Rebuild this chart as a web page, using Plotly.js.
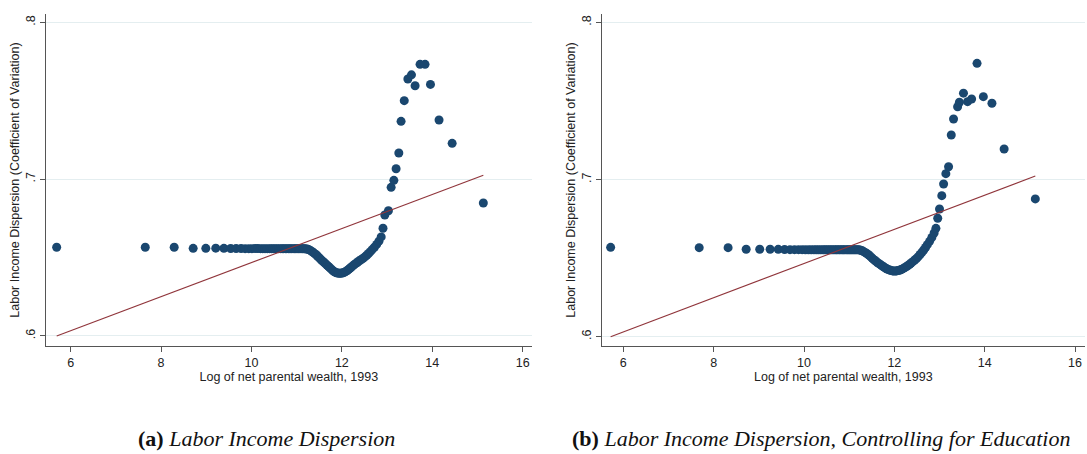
<!DOCTYPE html>
<html>
<head>
<meta charset="utf-8">
<script src="https://cdn.plot.ly/plotly-3.0.1.min.js"></script>
<style>html,body{margin:0;padding:0;background:#fff;}#chart{width:1087px;height:454px;}</style>
</head>
<body>
<div id="chart"></div>
<script>
// Panel (a): Labor income dispersion
var leftX = [
  5.69, 7.65, 8.29, 8.71, 8.99, 9.21, 9.39, 9.54, 9.66, 9.77,
  9.86, 9.94, 10.01, 10.08, 10.14, 10.20, 10.25, 10.30, 10.35, 10.40,
  10.44, 10.48, 10.52, 10.56, 10.60, 10.64, 10.68, 10.71, 10.75, 10.78,
  10.82, 10.85, 10.88, 10.92, 10.95, 10.98, 11.01, 11.04, 11.07, 11.10,
  11.13, 11.16, 11.19, 11.22, 11.25, 11.28, 11.31, 11.34, 11.37, 11.40,
  11.43, 11.46, 11.49, 11.52, 11.55, 11.58, 11.61, 11.64, 11.67, 11.70,
  11.73, 11.76, 11.79, 11.82, 11.85, 11.88, 11.91, 11.94, 11.97, 12.00,
  12.03, 12.06, 12.09, 12.12, 12.15, 12.18, 12.21, 12.25, 12.28, 12.32,
  12.35, 12.39, 12.43, 12.47, 12.51, 12.55, 12.59, 12.63, 12.67, 12.72,
  12.77, 12.82, 12.87, 12.91, 12.95, 13.03, 13.09, 13.15, 13.20, 13.26,
  13.31, 13.38, 13.46, 13.54, 13.62, 13.73, 13.84, 13.96, 14.15, 14.44,
  15.13
];
var leftY = [
  .6566, .6566, .6566, .6559, .6559, .6560, .6559, .6558, .6558, .6558,
  .6557, .6557, .6557, .6558, .6558, .6557, .6557, .6557, .6557, .6557,
  .6557, .6557, .6557, .6557, .6557, .6557, .6557, .6557, .6557, .6557,
  .6557, .6557, .6557, .6557, .6557, .6557, .6557, .6557, .6557, .6557,
  .6557, .6556, .6556, .6555, .6553, .6549, .6544, .6538, .6532, .6525,
  .6518, .6510, .6501, .6492, .6484, .6476, .6468, .6460, .6452, .6444,
  .6436, .6428, .6420, .6413, .6407, .6403, .6401, .6400, .6400, .6401,
  .6403, .6407, .6412, .6418, .6425, .6432, .6440, .6449, .6457, .6465,
  .6472, .6480, .6488, .6496, .6505, .6515, .6526, .6538, .6551, .6566,
  .6584, .6605, .6632, .6687, .6772, .6799, .6948, .6993, .7067, .7167,
  .7369, .7501, .7639, .7666, .7596, .7733, .7733, .7605, .7378, .7229,
  .6848
];
var leftFitY = [0.6000, 0.7025];   // linear fit at min and max of x

// Panel (b): controlling for education
var rightX = [
  5.72, 7.68, 8.32, 8.72, 9.02, 9.25, 9.43, 9.57, 9.69, 9.79,
  9.88, 9.96, 10.03, 10.10, 10.16, 10.22, 10.27, 10.32, 10.37, 10.42,
  10.46, 10.50, 10.54, 10.58, 10.62, 10.66, 10.70, 10.73, 10.77, 10.80,
  10.84, 10.87, 10.90, 10.94, 10.97, 11.00, 11.03, 11.06, 11.09, 11.12,
  11.15, 11.18, 11.21, 11.24, 11.27, 11.30, 11.33, 11.36, 11.39, 11.42,
  11.45, 11.48, 11.51, 11.54, 11.57, 11.60, 11.63, 11.66, 11.69, 11.72,
  11.75, 11.78, 11.81, 11.84, 11.87, 11.90, 11.93, 11.96, 11.99, 12.02,
  12.05, 12.08, 12.11, 12.14, 12.17, 12.20, 12.23, 12.27, 12.30, 12.34,
  12.37, 12.41, 12.45, 12.49, 12.53, 12.57, 12.61, 12.65, 12.69, 12.73,
  12.78, 12.83, 12.88, 12.92, 12.96, 13.00, 13.05, 13.09, 13.14, 13.20,
  13.26, 13.31, 13.40, 13.44, 13.53, 13.62, 13.71, 13.83, 13.97, 14.16,
  14.43, 15.12
];
var rightY = [
  .6569, .6567, .6567, .6557, .6557, .6557, .6556, .6555, .6554, .6554,
  .6554, .6554, .6553, .6553, .6553, .6553, .6553, .6553, .6553, .6553,
  .6553, .6553, .6553, .6553, .6553, .6553, .6553, .6553, .6553, .6553,
  .6553, .6553, .6553, .6553, .6553, .6553, .6553, .6553, .6553, .6553,
  .6553, .6553, .6553, .6552, .6549, .6545, .6540, .6535, .6529, .6523,
  .6516, .6508, .6500, .6492, .6485, .6478, .6471, .6465, .6459, .6453,
  .6447, .6441, .6436, .6431, .6427, .6424, .6421, .6419, .6418, .6418,
  .6419, .6421, .6423, .6426, .6430, .6435, .6440, .6446, .6453, .6461,
  .6469, .6478, .6488, .6498, .6510, .6523, .6537, .6552, .6568, .6586,
  .6607, .6632, .6660, .6690, .6754, .6813, .6898, .6972, .7038, .7082,
  .7284, .7386, .7464, .7492, .7550, .7496, .7513, .7740, .7528, .7486,
  .7195, .6877
];
var rightFitY = [0.6000, 0.7023];

var xTicks = [6, 8, 10, 12, 14, 16];
var yTicks = [0.6, 0.7, 0.8];
var yTickText = ['.6', '.7', '.8'];
var xTitle = 'Log of net parental wealth, 1993';
var yTitle = 'Labor Income Dispersion (Coefficient of Variation)';
var captionA = '<b>(a)</b> <i>Labor Income Dispersion</i>';
var captionB = '<b>(b)</b> <i>Labor Income Dispersion, Controlling for Education</i>';

var navy = '#1a476f', maroon = '#90353b';
var W = 1087, H = 454;

function minOf(a){return Math.min.apply(null, a);}
function maxOf(a){return Math.max.apply(null, a);}

var traces = [
  {x: leftX, y: leftY, type: 'scatter', mode: 'markers', xaxis: 'x', yaxis: 'y',
   marker: {color: navy, size: 9}, showlegend: false, hoverinfo: 'x+y'},
  {x: [minOf(leftX), maxOf(leftX)], y: leftFitY, type: 'scatter', mode: 'lines', xaxis: 'x', yaxis: 'y',
   line: {color: maroon, width: 1.1}, showlegend: false},
  {x: rightX, y: rightY, type: 'scatter', mode: 'markers', xaxis: 'x2', yaxis: 'y2',
   marker: {color: navy, size: 9}, showlegend: false, hoverinfo: 'x+y'},
  {x: [minOf(rightX), maxOf(rightX)], y: rightFitY, type: 'scatter', mode: 'lines', xaxis: 'x2', yaxis: 'y2',
   line: {color: maroon, width: 1.1}, showlegend: false}
];

var tickFont = {family: 'Liberation Sans, Arial, sans-serif', size: 12.5, color: '#222'};
function xAxis(domain, range, anchor){
  return {domain: domain, range: range, anchor: anchor, tickvals: xTicks, ticktext: xTicks.map(String),
    ticks: 'outside', ticklen: 5, tickwidth: 1, tickcolor: '#555', showline: true, linecolor: '#555', linewidth: 1,
    showgrid: false, zeroline: false, tickfont: tickFont, automargin: false,
    title: {text: xTitle, font: tickFont, standoff: 2}};
}
function yAxis(domain, range, anchor){
  return {domain: domain, range: range, anchor: anchor, tickvals: yTicks, ticktext: yTickText, tickangle: -90,
    ticks: 'outside', ticklen: 5, tickwidth: 1, tickcolor: '#555', showline: true, linecolor: '#555', linewidth: 1,
    showgrid: true, gridcolor: '#e4eef0', gridwidth: 1, zeroline: false, tickfont: tickFont, automargin: false,
    title: {text: yTitle, font: tickFont, standoff: 1}};
}

var yDom = [(H - 346) / H, (H - 14) / H];
var capFont = {family: 'Liberation Serif, DejaVu Serif, serif', size: 22, color: '#111'};
var layout = {
  width: W, height: H,
  margin: {l: 0, r: 0, t: 0, b: 0},
  paper_bgcolor: '#fff', plot_bgcolor: '#fff',
  xaxis: xAxis([46 / W, 531.7 / W], [5.454, 16.2], 'y'),
  yaxis: yAxis(yDom, [0.5936, 0.8054], 'x'),
  xaxis2: xAxis([601.7 / W, 1085 / W], [5.522, 16.22], 'y2'),
  yaxis2: yAxis(yDom, [0.5941, 0.8054], 'x2'),
  annotations: [
    {text: captionA, xref: 'paper', yref: 'paper', x: 266 / W, y: (H - 438) / H, xanchor: 'center', yanchor: 'middle',
     showarrow: false, font: capFont},
    {text: captionB, xref: 'paper', yref: 'paper', x: 821 / W, y: (H - 438) / H, xanchor: 'center', yanchor: 'middle',
     showarrow: false, font: capFont}
  ]
};

Plotly.newPlot('chart', traces, layout, {displayModeBar: false, staticPlot: true});
</script>
</body>
</html>
